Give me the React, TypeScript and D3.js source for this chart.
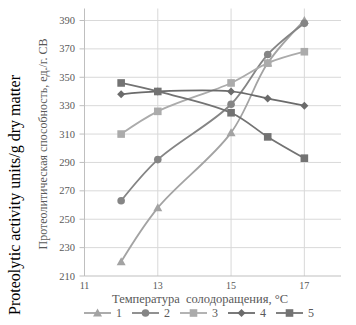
import * as React from "react";
import * as d3 from "d3";

const temps = [12, 13, 15, 16, 17];
const series1 = [220, 258, 311, 360, 390];
const series2 = [263, 292, 331, 366, 388];
const series3 = [310, 326, 346, 360, 368];
const series4 = [338, 340, 340, 335, 330];
const series5 = [346, 340, 325, 308, 293];
const xTicks = [11, 13, 15, 17];
const yTicks = [210, 230, 250, 270, 290, 310, 330, 350, 370, 390];

const seriesList = [
  { key: "1", values: series1, color: "#a3a3a3", marker: "triangle" },
  { key: "2", values: series2, color: "#858585", marker: "circle" },
  { key: "3", values: series3, color: "#ababab", marker: "square" },
  { key: "4", values: series4, color: "#6b6b6b", marker: "diamond" },
  { key: "5", values: series5, color: "#737373", marker: "square" },
];

const font = "Liberation Serif, Times New Roman, serif";

function Marker({ type, x, y, color }: { type: string; x: number; y: number; color: string }) {
  if (type === "circle") return <circle cx={x} cy={y} r={3.8} fill={color} />;
  if (type === "square") return <rect x={x - 3.8} y={y - 3.8} width={7.6} height={7.6} fill={color} />;
  if (type === "diamond")
    return <path d={`M${x},${y - 4}L${x + 4},${y}L${x},${y + 4}L${x - 4},${y}Z`} fill={color} />;
  return <path d={`M${x},${y - 4.5}L${x + 4.5},${y + 3.5}L${x - 4.5},${y + 3.5}Z`} fill={color} />;
}

export default function App() {
  const width = 356;
  const height = 325;
  const x = d3.scaleLinear().domain([11, 18]).range([84.5, 341]);
  const y = d3.scaleLinear().domain([210, 390]).range([276, 20.5]);
  const line = d3
    .line<number>()
    .x((_, i) => x(temps[i]))
    .y((d) => y(d))
    .curve(d3.curveCatmullRom.alpha(0.5));

  return (
    <svg width={width} height={height} style={{ position: "absolute", left: 0, top: 0 }}>
      <rect width={width} height={height} fill="#fff" />
      {/* grid */}
      {yTicks.slice(1).map((t) => (
        <line key={"gy" + t} x1={x(11)} x2={x(18)} y1={y(t)} y2={y(t)} stroke="#d9d9d9" strokeWidth={1} />
      ))}
      {xTicks.slice(1).map((t) => (
        <line key={"gx" + t} x1={x(t)} x2={x(t)} y1={y(210)} y2={y(390) - 12} stroke="#d9d9d9" strokeWidth={1} />
      ))}
      {/* axes */}
      <line x1={x(11)} x2={x(11)} y1={y(210)} y2={y(390) - 12} stroke="#bfbfbf" />
      <line x1={x(11)} x2={x(18)} y1={y(210)} y2={y(210)} stroke="#bfbfbf" />
      {yTicks.map((t) => (
        <g key={"yt" + t}>
          <line x1={x(11) - 5} x2={x(11)} y1={y(t)} y2={y(t)} stroke="#bfbfbf" />
          <text x={75} y={y(t) + 3.5} textAnchor="end" fontSize={10.5} fill="#595959" fontFamily={font}>
            {t}
          </text>
        </g>
      ))}
      {xTicks.map((t) => (
        <text key={"xt" + t} x={x(t)} y={288.5} textAnchor="middle" fontSize={10} fill="#595959" fontFamily={font}>
          {t}
        </text>
      ))}
      {/* series */}
      {seriesList.map((s) => (
        <g key={s.key}>
          <path d={line(s.values) as string} fill="none" stroke={s.color} strokeWidth={1.8} />
          {s.values.map((v, i) => (
            <Marker key={i} type={s.marker} x={x(temps[i])} y={y(v)} color={s.color} />
          ))}
        </g>
      ))}
      {/* axis titles */}
      <text x={200} y={303} textAnchor="middle" fontSize={12.5} fill="#595959" fontFamily={font} style={{ whiteSpace: "pre" }}>
        {"Температура  солодоращения, °С"}
      </text>
      <text
        transform="translate(47,144) rotate(-90)"
        textAnchor="middle"
        fontSize={12}
        fill="#595959"
        fontFamily={font}
      >
        Протеолитическая способность, ед./г. СВ
      </text>
      <text
        transform="translate(20,195) rotate(-90)"
        textAnchor="middle"
        fontSize={16}
        fill="#000"
        fontFamily={font}
      >
        Proteolytic activity units/g dry matter
      </text>
      {/* legend */}
      {seriesList.map((s, i) => (
        <g key={"lg" + s.key} transform={`translate(${84 + 48 * i},313)`}>
          <line x1={0} x2={27} y1={0} y2={0} stroke={s.color} strokeWidth={1.8} />
          <Marker type={s.marker} x={13.5} y={0} color={s.color} />
          <text x={32} y={4} fontSize={12} fill="#595959" fontFamily={font}>
            {s.key}
          </text>
        </g>
      ))}
    </svg>
  );
}
